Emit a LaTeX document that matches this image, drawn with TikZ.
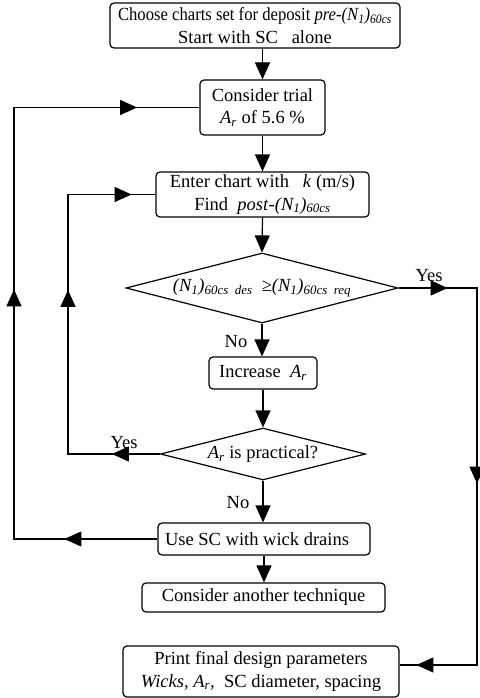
\documentclass[tikz,border=0pt]{standalone}
\usepackage{fontspec}
\setmainfont{Liberation Serif}
\usetikzlibrary{arrows.meta,shapes.geometric,decorations.markings}

\newcommand{\Nsub}[1]{\textit{(N\textsubscript{1})\textsubscript{#1}}}
\newcommand{\Ar}{\textit{A\textsubscript{r}}}

\tikzset{
  txt/.style={font=\fontsize{18.5}{22.5}\selectfont},
  >={Triangle[length=17pt,width=15pt]},
  flow/.style={line width=1.2pt},
  tip/.style={flow,->},
  box/.style={draw, line width=1.2pt, rounded corners=4pt, align=center,
    inner sep=0pt, txt},
  decision/.style={draw, line width=1.2pt, diamond, aspect=3.9,
    inner sep=0pt, txt},
  lbl/.style={inner sep=0pt, txt},
}

\begin{document}
\begin{tikzpicture}[x=1pt, y={(0pt,-1pt)}]
\useasboundingbox (0,0) rectangle (479,698);

% process steps and decisions
\node[box, minimum width=290pt, minimum height=45pt] (start) at (255,25.5)
  {\scalebox{0.9}[1]{Choose charts set for deposit \textit{pre}-\Nsub{60cs}}\\Start with SC\ \ \ alone};
\node[box, minimum width=125pt, minimum height=55pt] (trial) at (262.5,107.5)
  {Consider trial\\\Ar\ of 5.6 \%};
\node[box, minimum width=213pt, minimum height=45pt] (chart) at (262.5,194.5)
  {Enter chart with\ \ \ \textit{k} (m/s)\\Find\ \ \textit{post}-\Nsub{60cs}};
\node[decision, minimum width=272pt, minimum height=70pt] (check) at (262,288)
  {\Nsub{60cs\ \ des}\ \ ≥\Nsub{60cs\ \ req}};
\node[box, minimum width=108pt, minimum height=32pt] (inc) at (263,373)
  {Increase\ \ \Ar};
\node[decision, minimum width=205pt, minimum height=52pt] (pract) at (263,454)
  {\Ar\ is practical?};
\node[box, minimum width=212pt, minimum height=32pt] (wick) at (264,539)
  {\hspace*{-14pt}Use SC with wick drains};
\node[box, minimum width=243pt, minimum height=29pt] (other) at (263.5,597.5)
  {Consider another technique};
\node[box, minimum width=276pt, minimum height=51pt] (final) at (261,671.5)
  {Print final design parameters\\\textit{Wicks, \Ar,}\ \ SC diameter, spacing};

% branch labels
\node[lbl] (yes1) at (429,276) {Yes};
\node[lbl] (no1) at (236,342) {No};
\node[lbl] (yes2) at (124,443) {Yes};
\node[lbl] (no2) at (238,503) {No};

% corner points of the return loops
\coordinate (outer) at (14,0);
\coordinate (inner) at (68,0);
\coordinate (rcorner) at (477,665);

% main sequence
\draw[tip] (trial.north |- start.south) -- (trial.north);
\draw[tip] (trial.south) -- (chart.north);
\draw[tip] (chart.south) -- (check.north);
\draw[tip] (check.south) -- (check.south |- inc.north);
\draw[tip] (inc.south) -- (pract.north);
\draw[tip] (pract.south) -- (pract.south |- wick.north);
\draw[tip] (wick.south) -- (wick.south |- other.north);

% return loops with arrows along the way
\draw[flow, postaction={decorate}, decoration={markings,
    mark=at position 93pt with {\arrow{>}},
    mark=at position 393pt with {\arrow{>}},
    mark=at position 698pt with {\arrow{>}}}]
  (wick.west) -- (wick.west -| outer) -- (trial.west -| outer) -- (trial.west);
\draw[flow, postaction={decorate}, decoration={markings,
    mark=at position 48pt with {\arrow{>}},
    mark=at position 256pt with {\arrow{>}},
    mark=at position 415pt with {\arrow{>}}}]
  (pract.west) -- (pract.west -| inner) -- (chart.west -| inner) -- (chart.west);
\draw[flow, postaction={decorate}, decoration={markings,
    mark=at position 49pt with {\arrow{>}},
    mark=at position 274pt with {\arrow{>}},
    mark=at position 516pt with {\arrow{>}}}]
  (check.east) -- (check.east -| rcorner) -- (rcorner) -- (rcorner -| final.east);
\end{tikzpicture}
\end{document}
